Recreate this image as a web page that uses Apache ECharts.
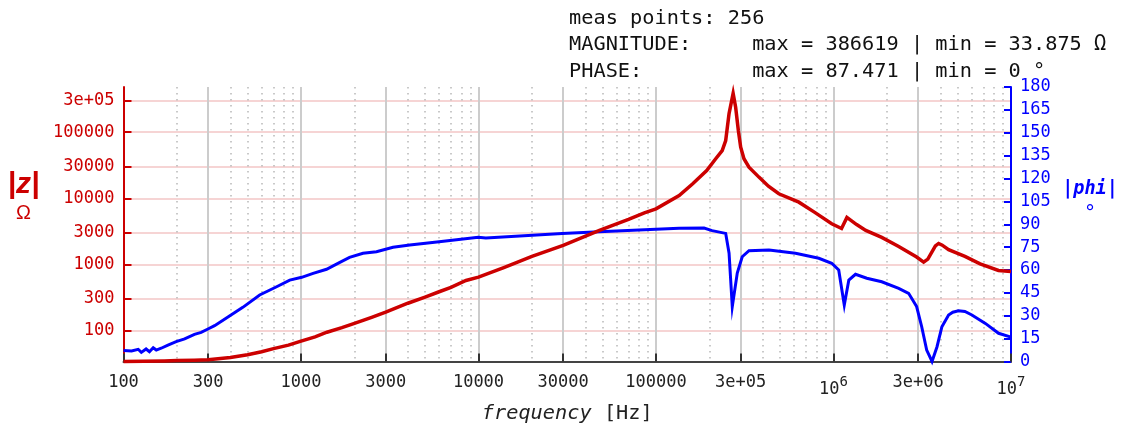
<!DOCTYPE html>
<html>
<head>
<meta charset="utf-8">
<script src="https://cdn.jsdelivr.net/npm/echarts@6/dist/echarts.min.js"></script>
<style>
  html, body { margin: 0; padding: 0; background: #fff; }
  #chart { width: 1123px; height: 429px; }
</style>
</head>
<body>
<div id="chart"></div>
<script>
// tick positions and labels
const freqTicks = [100, 300, 1000, 3000, 10000, 30000, 100000, 300000, 1000000, 3000000, 10000000]
const freqTickLabels = ['100', '300', '1000', '3000', '10000', '30000', '100000', '3e+05', '{n|10}{s|6}', '3e+06', '{n|10}{s|7}']
const freqMinor = [
  200, 400, 500, 600, 700, 800, 900,
  2000, 4000, 5000, 6000, 7000, 8000, 9000,
  20000, 40000, 50000, 60000, 70000, 80000, 90000,
  200000, 400000, 500000, 600000, 700000, 800000, 900000,
  2000000, 4000000, 5000000, 6000000, 7000000, 8000000, 9000000
]
const zTicks = [100, 300, 1000, 3000, 10000, 30000, 100000, 300000]
const zTickLabels = ['100', '300', '1000', '3000', '10000', '30000', '100000', '3e+05']

// |Z| in ohm
const magFreq = [100, 130, 170, 200, 250, 300, 400, 500, 600, 700, 850, 1000, 1200, 1400, 1700,
  2000, 2500, 3000, 4000, 5000, 6000, 7000, 8500, 10000, 14000, 20000, 30000, 48000, 70000,
  86000, 100000, 135000, 161000, 193000, 217000, 236000, 247000, 258000, 272000, 281000,
  291000, 300000, 313000, 334000, 380000, 430000, 492000, 638000, 780000, 977000, 1110000,
  1190000, 1350000, 1520000, 1870000, 2330000, 2940000, 3220000, 3400000, 3750000, 3910000,
  4100000, 4450000, 5500000, 6700000, 8500000, 10000000]
const magnitude = [33.875, 34.2, 34.6, 35, 35.5, 36, 39, 43, 47.5, 53, 60, 69, 80, 94, 110,
  128, 158, 189, 258, 320, 385, 450, 570, 640, 900, 1320, 1930, 3260, 4800,
  6030, 6930, 11000, 16600, 26300, 39600, 52800, 74800, 191000, 386619, 239000,
  106000, 59400, 39700, 29600, 20900, 15200, 11700, 8730, 6170, 4110, 3490,
  5130, 4000, 3260, 2560, 1866, 1290, 1080, 1200, 1900, 2070,
  1950, 1665, 1320, 1020, 810, 780]

// phase in degrees
const phaseFreq = [100, 102, 111, 121, 126, 134, 140, 147, 153, 163, 178, 198, 221, 251, 274,
  299, 326, 382, 470, 585, 729, 864, 1009, 1170, 1393, 1645, 1877, 2235, 2662, 3300, 4100,
  6000, 9970, 11000, 29600, 47900, 100000, 135000, 186500, 207000, 247000, 258000, 269000,
  287000, 306000, 334000, 433000, 611000, 827000, 977000, 1070000, 1150000, 1220000,
  1330000, 1540000, 1870000, 2330000, 2650000, 2940000, 3140000, 3350000, 3590000,
  3830000, 4080000, 4450000, 4700000, 5060000, 5500000, 6020000, 7170000, 8510000, 10000000]
const phase = [7.2, 7.5, 6.9, 8, 6, 8.2, 6.4, 9, 7.5, 8.7, 10.8, 13, 14.8, 17.8, 19.1,
  21.3, 23.5, 28.7, 35.5, 43.6, 49, 53.4, 55.2, 57.8, 60.5, 64.8, 68.3, 71, 72, 74.9, 76.4,
  78.6, 81.4, 81, 84, 85.1, 86.7, 87.3, 87.471, 85.8, 84, 71, 36,
  58, 68.7, 72.7, 73.1, 71, 67.7, 64.4, 60, 37, 53.4,
  57.2, 54.6, 52.3, 48, 44.7, 36, 22.8, 7.5, 0,
  9.7, 22.8, 30.5, 32.3, 33.3, 32.8, 30.5, 25, 18.5, 16]

const mono = 'DejaVu Sans Mono'
const red = '#cc0000'
const blue = '#0000ff'

const pickLabel = (ticks, labels) => (v) => {
  let best = 0
  ticks.forEach((t, i) => {
    if (Math.abs(Math.log10(t) - Math.log10(v)) < Math.abs(Math.log10(ticks[best]) - Math.log10(v))) best = i
  })
  return labels[best]
}

const chart = echarts.init(document.getElementById('chart'))
const option = {
  animation: false,
  backgroundColor: '#fff',
  title: {
    text: 'meas points: 256\nMAGNITUDE:     max = 386619 | min = 33.875 Ω\nPHASE:         max = 87.471 | min = 0 °',
    left: 564,
    top: 0,
    textStyle: { fontFamily: mono, fontSize: 20.3, lineHeight: 26.5, fontWeight: 'normal', color: '#111' }
  },
  grid: { left: 123.5, right: 112, top: 87, bottom: 67.5, containLabel: false, outerBoundsMode: 'none' },
  xAxis: [
    {
      type: 'log',
      min: 100,
      max: 10000000,
      position: 'bottom',
      axisLine: { show: true, onZero: false, lineStyle: { color: '#444', width: 2 } },
      axisTick: { show: true, inside: true, length: 8, customValues: freqTicks, lineStyle: { color: '#333', width: 2 } },
      axisLabel: {
        customValues: freqTicks,
        formatter: pickLabel(freqTicks, freqTickLabels),
        color: '#222',
        fontFamily: mono,
        fontSize: 17,
        margin: 13,
        rich: {
          n: { fontFamily: mono, fontSize: 17, color: '#222', padding: [7, 0, 0, 0] },
          s: { fontFamily: mono, fontSize: 14, color: '#222', padding: [0, 0, 9, 0] }
        }
      },
      splitLine: { show: true, lineStyle: { color: '#cccccc', width: 2 } },
      name: '{i|frequency }{r|[Hz]}',
      nameLocation: 'middle',
      nameGap: 42,
      nameTextStyle: {
        rich: {
          i: { fontFamily: mono, fontSize: 20.3, fontStyle: 'italic', color: '#222' },
          r: { fontFamily: mono, fontSize: 20.3, color: '#222' }
        }
      }
    },
    {
      type: 'log',
      min: 100,
      max: 10000000,
      position: 'bottom',
      axisLine: { show: false },
      axisTick: { show: false, customValues: freqMinor },
      axisLabel: { show: false, customValues: freqMinor },
      splitLine: { show: true, lineStyle: { color: '#b8b8b8', width: 1.5, type: [1.5, 4.5] } }
    }
  ],
  yAxis: [
    {
      type: 'log',
      min: 33.875,
      max: 483000,
      position: 'left',
      axisLine: { show: true, lineStyle: { color: red, width: 2 } },
      axisTick: { show: true, inside: true, length: 8, customValues: zTicks, lineStyle: { color: red, width: 2 } },
      axisLabel: {
        customValues: zTicks,
        formatter: pickLabel(zTicks, zTickLabels),
        color: red,
        fontFamily: mono,
        fontSize: 17,
        margin: 9
      },
      splitLine: { show: true, lineStyle: { color: '#f6d4d4', width: 2 } },
      name: '{z||z|}\n{o|Ω}',
      nameLocation: 'middle',
      nameRotate: 0,
      nameGap: 82,
      nameTextStyle: {
        padding: [0, 0, 56, 0],
        rich: {
          z: { fontSize: 30, fontWeight: 'bold', fontStyle: 'italic', color: red, width: 36, align: 'center', lineHeight: 34 },
          o: { fontSize: 20, color: red, width: 36, align: 'center', lineHeight: 24 }
        }
      }
    },
    {
      type: 'value',
      min: 0,
      max: 180,
      interval: 15,
      position: 'right',
      axisLine: { show: true, lineStyle: { color: blue, width: 2 } },
      axisTick: { show: true, inside: true, length: 7, lineStyle: { color: blue, width: 2 } },
      axisLabel: { color: blue, fontFamily: mono, fontSize: 17, margin: 9 },
      splitLine: { show: false },
      name: '{p||phi|}\n{d|°}',
      nameLocation: 'middle',
      nameRotate: 0,
      nameGap: 51,
      nameTextStyle: {
        padding: [0, 0, 44, 0],
        rich: {
          p: { fontFamily: mono, fontSize: 18.5, fontWeight: 'bold', fontStyle: 'italic', color: blue, width: 56, align: 'center', lineHeight: 24 },
          d: { fontFamily: mono, fontSize: 20, color: blue, width: 56, align: 'center', lineHeight: 26 }
        }
      }
    }
  ],
  series: [
    {
      name: 'phase',
      type: 'line',
      xAxisIndex: 0,
      yAxisIndex: 1,
      data: phaseFreq.map((f, i) => [f, phase[i]]),
      showSymbol: false,
      clip: false,
      lineStyle: { color: blue, width: 3, join: 'miter', miterLimit: 10 },
      itemStyle: { color: blue },
      z: 3
    },
    {
      name: 'magnitude',
      type: 'line',
      xAxisIndex: 0,
      yAxisIndex: 0,
      data: magFreq.map((f, i) => [f, magnitude[i]]),
      showSymbol: false,
      clip: false,
      lineStyle: { color: red, width: 3.5, join: 'miter', miterLimit: 10 },
      itemStyle: { color: red },
      z: 4
    }
  ]
}
option && chart.setOption(option)
</script>
</body>
</html>
